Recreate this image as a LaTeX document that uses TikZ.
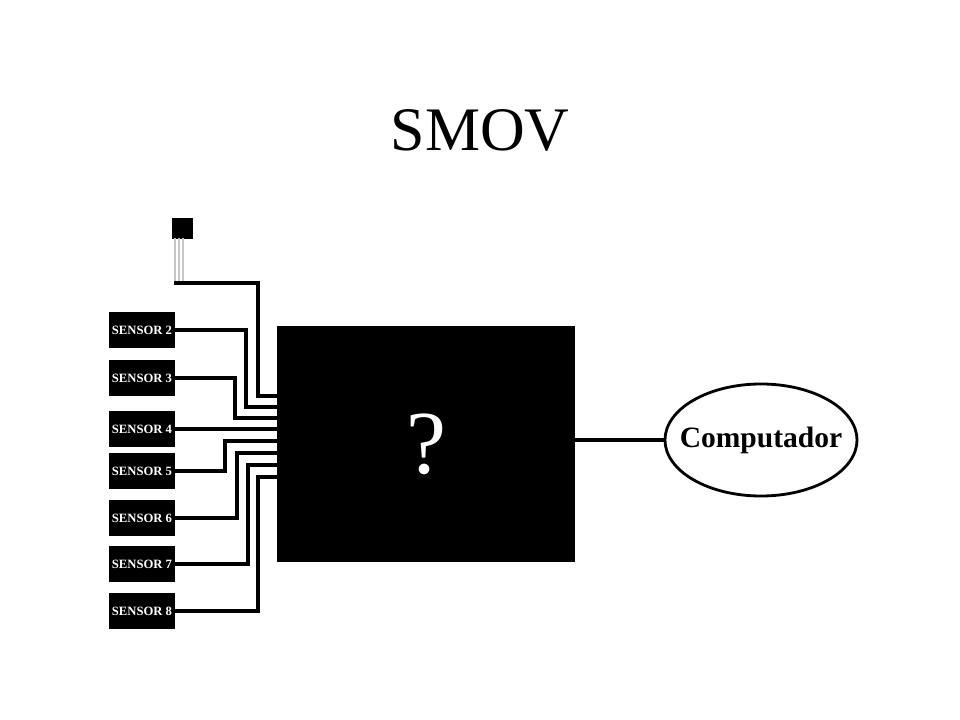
\documentclass[tikz,border=0pt]{standalone}
\usepackage{fontspec}
\setmainfont{Liberation Serif}
\usepackage{tikz}
\usetikzlibrary{shapes.geometric}

\tikzset{
  sensor/.style={fill=black,text=white,minimum width=1.65cm,minimum height=0.875cm,
    inner sep=0pt,font=\fontsize{9}{10}\selectfont\bfseries},
  wire/.style={line width=2.8pt},
  leg/.style={gray!45,line width=1.2pt},
}

\begin{document}
\begin{tikzpicture}[x=0.025cm,y=-0.025cm]
\useasboundingbox (0,0) rectangle (960,720);
\node[font=\fontsize{44}{50}\selectfont] (title) at (480,130) {SMOV};
% the black box
\node[fill=black,text=white,minimum width=7.45cm,minimum height=5.9cm,
  font=\fontsize{64}{70}\selectfont] (box) at (426,444) {?};
\node[ellipse,draw,line width=2pt,inner sep=0pt,minimum width=4.8cm,
  minimum height=2.8cm] (comp) at (761,440) {};
\node[font=\fontsize{21}{24}\selectfont\bfseries] (comptext) at (comp.center) {Computador};
\draw[line width=2.2pt] (box.east |- comp.west) -- (comp.west);
% transistor
\filldraw[black] (172,218) rectangle (192,238);
\draw[leg] (175,238) -- (175,282);
\draw[leg] (179,238) -- (179,282);
\draw[leg] (183,238) -- (183,282);
\coordinate (t1) at (174,283);
% sensors
\node[sensor] (s2) at (142,330) {SENSOR 2};
\node[sensor] (s3) at (142,378) {SENSOR 3};
\node[sensor] (s4) at (142,429) {SENSOR 4};
\node[sensor] (s5) at (142,471) {SENSOR 5};
\node[sensor] (s6) at (142,518) {SENSOR 6};
\node[sensor] (s7) at (142,564) {SENSOR 7};
\node[sensor] (s8) at (142,611) {SENSOR 8};
% inputs of the box
\coordinate (in1) at (box.west |- 0,396);
\coordinate (in2) at (box.west |- 0,407);
\coordinate (in3) at (box.west |- 0,418);
\coordinate (in4) at (box.west |- 0,429);
\coordinate (in5) at (box.west |- 0,441);
\coordinate (in6) at (box.west |- 0,453);
\coordinate (in7) at (box.west |- 0,465);
\coordinate (in8) at (box.west |- 0,477);
% wires
\draw[wire] (t1) -| (258,0 |- in1) -- (in1);
\draw[wire] (s2.east) -| (246,0 |- in2) -- (in2);
\draw[wire] (s3.east) -| (235,0 |- in3) -- (in3);
\draw[wire] (s4.east) -- (in4);
\draw[wire] (s5.east) -| (225,0 |- in5) -- (in5);
\draw[wire] (s6.east) -| (237,0 |- in6) -- (in6);
\draw[wire] (s7.east) -| (248,0 |- in7) -- (in7);
\draw[wire] (s8.east) -| (258,0 |- in8) -- (in8);
\end{tikzpicture}
\end{document}
